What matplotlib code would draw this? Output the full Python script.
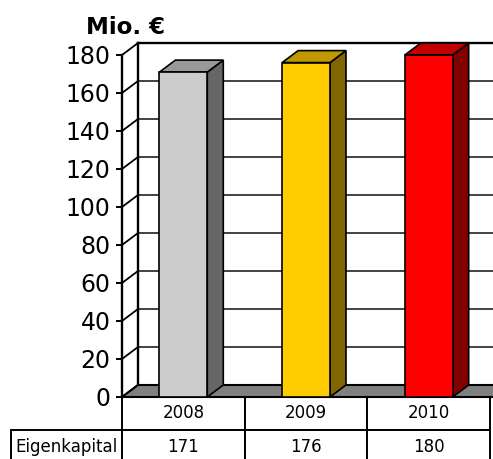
import matplotlib.pyplot as plt
from matplotlib.patches import Polygon, Rectangle

years = ['2008', '2009', '2010']
eigenkapital = [171, 176, 180]
row_label = 'Eigenkapital'
yticks = [0, 20, 40, 60, 80, 100, 120, 140, 160, 180]

front_cols = ['#cccccc', '#ffcc00', '#ff0000']
top_cols = ['#999999', '#c09900', '#c00000']
side_cols = ['#666666', '#806600', '#800000']

W, H = 493, 459
cat_px = 122.7          # width of one category in pixels
px_per_unit = 342 / 180.0
xmax = 371 / cat_px
# 3d depth offset in data units
dx = 16 / cat_px
dy = 12 / px_per_unit
bar_w = 0.39

fig = plt.figure(figsize=(W / 100, H / 100), dpi=100)
ax = fig.add_axes([122 / W, 62 / H, 371 / W, 342 / H])
ax.set_xlim(0, xmax)
ax.set_ylim(0, 180)

# floor
ax.add_patch(Polygon([(0, 0), (xmax + 1, 0), (xmax + 1 + dx, dy), (dx, dy)],
                     closed=True, facecolor='#808080', edgecolor='black',
                     lw=1.5, zorder=1, clip_on=False))

# back wall gridlines + side wall diagonals
for t in yticks[1:]:
    lw = 1.7 if t == yticks[-1] else 1.3
    col = 'black' if t == yticks[-1] else '#333333'
    ax.plot([dx, xmax + 1], [t + dy, t + dy], color=col, lw=lw, zorder=0.5, clip_on=False)
for t in yticks:
    ax.plot([0, dx], [t, t + dy], color='black', lw=1.3, zorder=0.6, clip_on=False)
ax.plot([dx, dx], [dy, yticks[-1] + dy], color='black', lw=1.7, zorder=0.6, clip_on=False)

# bars
for i, v in enumerate(eigenkapital):
    x0 = i + 0.5 - bar_w / 2
    x1 = x0 + bar_w
    ax.add_patch(Polygon([(x1, 0), (x1 + dx, dy), (x1 + dx, v + dy), (x1, v)],
                         closed=True, facecolor=side_cols[i], edgecolor='black',
                         lw=1.2, zorder=3, clip_on=False))
    ax.add_patch(Polygon([(x0, v), (x1, v), (x1 + dx, v + dy), (x0 + dx, v + dy)],
                         closed=True, facecolor=top_cols[i], edgecolor='black',
                         lw=1.2, zorder=3, clip_on=False))
    ax.add_patch(Rectangle((x0, 0), bar_w, v, facecolor=front_cols[i],
                           edgecolor='black', lw=1.2, zorder=4, clip_on=False))

for s in ['top', 'right', 'bottom']:
    ax.spines[s].set_visible(False)
ax.spines['left'].set_linewidth(1.7)
ax.spines['left'].set_zorder(5)
ax.set_xticks([])
ax.set_yticks(yticks)
ax.tick_params(axis='y', length=4.3, width=1.4, pad=4, labelsize=17)
ax.set_facecolor('none')

# data table
tbl = ax.table(cellText=[[''] + years, [row_label] + [str(v) for v in eigenkapital]],
               colWidths=[111, cat_px, cat_px, cat_px],
               cellLoc='center',
               bbox=[-111 / 371, -66 / 342, (111 + 3 * cat_px) / 371, 66 / 342])
tbl.auto_set_font_size(False)
tbl.set_fontsize(12)
for (r, c), cell in tbl.get_celld().items():
    cell.set_linewidth(1.4)
    if r == 0 and c == 0:
        cell.visible_edges = ''

fig.text(125 / W, 1 - 27 / H, 'Mio. €', fontsize=16.5, fontweight='bold',
         ha='center', va='center')

plt.savefig('out.png', dpi=100)
